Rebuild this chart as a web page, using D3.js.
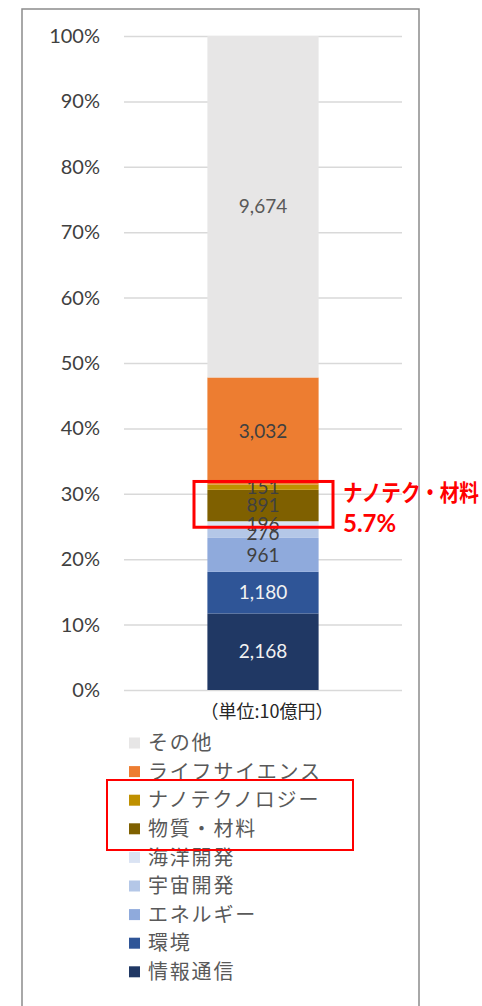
<!DOCTYPE html>
<html>
<head>
<meta charset="utf-8">
<script src="https://cdn.jsdelivr.net/npm/d3@7"></script>
<style>
  body { margin: 0; background: #fff; }
  text { font-family: Lato, "Noto Sans CJK JP", sans-serif; }
  .jp { font-family: "Noto Sans CJK JP", sans-serif; }
</style>
</head>
<body>
<svg id="chart" width="482" height="1006"></svg>
<script>
// categories, bottom of the stack first
const categories = ["情報通信", "環境", "エネルギー", "宇宙開発", "海洋開発", "物質・材料", "ナノテクノロジー", "ライフサイエンス", "その他"];
const values = [2168, 1180, 961, 276, 196, 891, 151, 3032, 9674];
const colors = ["#203864", "#2f5597", "#8faadc", "#b4c7e7", "#dae3f3", "#7f6000", "#bf9000", "#ed7d31", "#e7e6e6"];
const labelColors = ["#f2f2f2", "#f2f2f2", "#404040", "#404040", "#404040", "#404040", "#404040", "#404040", "#595959"];
const ticks = [0, 0.1, 0.2, 0.3, 0.4, 0.5, 0.6, 0.7, 0.8, 0.9, 1];
const legendOrder = ["その他", "ライフサイエンス", "ナノテクノロジー", "物質・材料", "海洋開発", "宇宙開発", "エネルギー", "環境", "情報通信"];

const svg = d3.select("#chart");

// outer chart frame (bottom runs off the picture)
svg.append("path")
  .attr("d", "M22,1010 L22,9 L419,9 L419,1010")
  .attr("fill", "none")
  .attr("stroke", "#8c8c8c")
  .attr("stroke-width", 1.5);

let y = d3.scaleLinear().domain([0, 1]).range([690, 36]);
let x = d3.scaleBand().domain(["all"]).range([124, 402]).paddingInner(0).paddingOuter(0.75);

// gridlines + tick labels
let yaxis = svg.append("g")
  .attr("transform", "translate(124,0)")
  .call(d3.axisLeft(y).tickValues(ticks).tickSize(-278).tickPadding(24).tickFormat(d3.format(".0%")));
yaxis.select(".domain").remove();
yaxis.selectAll(".tick line").attr("stroke", "#d9d9d9").attr("stroke-width", 1.5);
yaxis.selectAll(".tick text")
  .attr("fill", "#404040")
  .style("font-size", "20px")
  .style("font-family", "Lato, sans-serif");

// stacked 100% bar
let row = {};
categories.forEach((c, i) => row[c] = values[i]);
let series = d3.stack().keys(categories).offset(d3.stackOffsetExpand)([row]);

svg.append("g").selectAll("rect")
  .data(series)
  .join("rect")
  .attr("x", x("all"))
  .attr("width", x.bandwidth())
  .attr("y", d => y(d[0][1]))
  .attr("height", d => y(d[0][0]) - y(d[0][1]))
  .attr("fill", (d, i) => colors[i]);

svg.append("g").selectAll("text")
  .data(series)
  .join("text")
  .attr("x", x("all") + x.bandwidth() / 2)
  .attr("y", d => y((d[0][0] + d[0][1]) / 2))
  .attr("dy", "0.35em")
  .attr("text-anchor", "middle")
  .attr("fill", (d, i) => labelColors[i])
  .style("font-size", "19px")
  .text((d, i) => d3.format(",")(values[i]));

// unit label
svg.append("text")
  .attr("class", "jp")
  .attr("x", 267)
  .attr("y", 718)
  .attr("text-anchor", "middle")
  .attr("fill", "#262626")
  .style("font-size", "18px")
  .text("（単位:10億円）");

// legend
let legend = svg.append("g").selectAll("g")
  .data(legendOrder)
  .join("g")
  .attr("transform", (d, i) => `translate(129,${743 + i * 28.6})`);
legend.append("rect")
  .attr("x", 0).attr("y", -5.5)
  .attr("width", 11).attr("height", 11)
  .attr("fill", d => colors[categories.indexOf(d)]);
legend.append("text")
  .attr("class", "jp")
  .attr("x", 19)
  .attr("dy", "0.36em")
  .attr("fill", "#595959")
  .style("font-size", "20px")
  .style("letter-spacing", "1.8px")
  .text(d => d);

// red highlight annotations
let nanoTop = series[6][0][1], matBottom = series[5][0][0];
svg.append("rect")
  .attr("x", 194).attr("y", y(nanoTop) - 3)
  .attr("width", 139).attr("height", y(matBottom) - y(nanoTop) + 9)
  .attr("fill", "none").attr("stroke", "#ff0000").attr("stroke-width", 3);
svg.append("text")
  .attr("class", "jp")
  .attr("x", 343).attr("y", 501)
  .attr("fill", "#ff0000")
  .attr("textLength", 136)
  .attr("lengthAdjust", "spacingAndGlyphs")
  .style("font-size", "23px").style("font-weight", "bold")
  .text("ナノテク・材料");
svg.append("text")
  .attr("x", 343).attr("y", 532)
  .attr("fill", "#ff0000")
  .style("font-size", "24px").style("font-weight", "bold")
  .style("font-family", "Lato, sans-serif")
  .text(d3.format(".1%")(0.057));

svg.append("rect")
  .attr("x", 107).attr("y", 780)
  .attr("width", 246).attr("height", 70)
  .attr("fill", "none").attr("stroke", "#ff0000").attr("stroke-width", 2);
</script>
</body>
</html>
